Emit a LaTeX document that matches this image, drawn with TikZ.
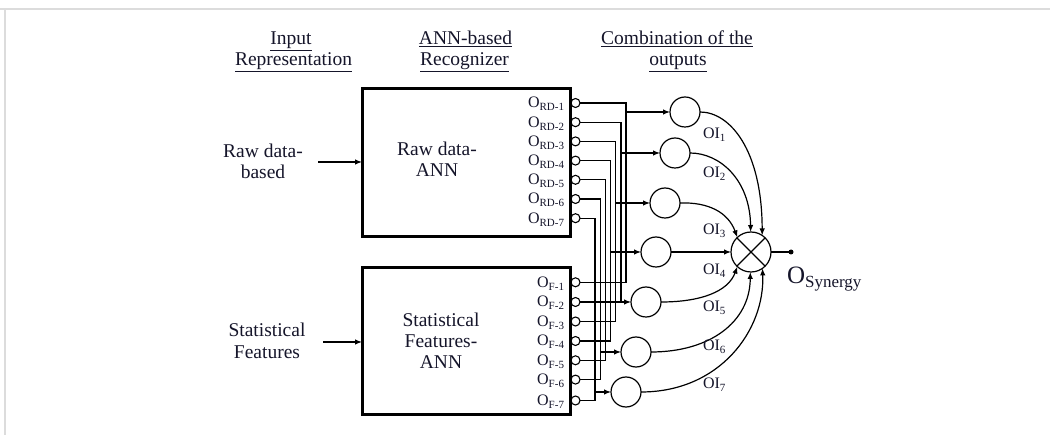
\documentclass[tikz,border=0pt]{standalone}
\usepackage{fontspec}
\setmainfont{Liberation Serif}
\usetikzlibrary{arrows.meta}
\definecolor{ink}{HTML}{15152A}
\definecolor{pageframe}{HTML}{DCDCDC}
\newcommand{\ulbl}[1]{$\underline{\hbox{#1}}$}
\newcommand{\osub}[1]{{\fontsize{16}{16}\selectfont O}\raisebox{-3pt}{\fontsize{11}{11}\selectfont #1}}
\newcommand{\oisub}[1]{{\fontsize{16}{16}\selectfont OI}\raisebox{-3pt}{\fontsize{11}{11}\selectfont #1}}
\begin{document}
\begin{tikzpicture}[x=1pt,y=-1pt,
  every node/.style={text=ink, inner sep=0pt, outer sep=0pt},
  lbl/.style={font=\fontsize{19.5}{22}\selectfont, anchor=base},
  annbox/.style={draw=black, line width=3pt},
  port/.style={circle, draw=black, line width=1.1pt, fill=white, minimum size=9pt},
  neuron/.style={circle, draw=black, line width=1.2pt, minimum size=30pt},
  wire/.style={draw=black, line width=1.2pt},
  arr/.style={wire, -{Latex[length=7pt,width=5.5pt]}}
]
\useasboundingbox (0,0) rectangle (1050,435);
% page frame
\draw[pageframe, line width=2pt] (0,9.5) -- (1050,9.5);
\draw[pageframe, line width=2pt] (5,9.5) -- (5,435);

% column headings
\node[lbl] (h1a) at (291,44.3) {\ulbl{Input}};
\node[lbl] (h1b) at (293.5,65.7) {\ulbl{Representation}};
\node[lbl] (h2a) at (465.5,44.3) {\ulbl{ANN-based}};
\node[lbl] (h2b) at (464.5,65.7) {\ulbl{Recognizer}};
\node[lbl] (h3a) at (677,44.3) {\ulbl{Combination of the}};
\node[lbl] (h3b) at (678,65.7) {\ulbl{outputs}};

% output ports of both recognizers
\foreach \i/\yr/\yf in {1/103/282.3, 2/122.2/302, 3/141.4/321.5, 4/160.6/341,
                        5/179.8/360.3, 6/199/379.6, 7/218.2/400.5}{
  \node[port] (pr\i) at (575.5,\yr) {};
  \node[port] (pf\i) at (575.5,\yf) {};
  \node[anchor=base east] (lr\i) at (564,\yr+5) {\osub{RD-\i}};
  \node[anchor=base east] (lf\i) at (564,\yf+5) {\osub{F-\i}};
}

% recognizer boxes
\node[annbox, minimum width=208pt, minimum height=148pt] (rd) at (466,163) {};
\node[annbox, minimum width=208pt, minimum height=147pt] (sf) at (466,341.5) {};
\node[lbl] (rdt1) at (437,156) {Raw data-};
\node[lbl] (rdt2) at (437,177) {ANN};
\node[lbl] (sft1) at (441,327) {Statistical};
\node[lbl] (sft2) at (441,348) {Features-};
\node[lbl] (sft3) at (441,369) {ANN};

% input representations
\node[lbl] (in1a) at (263,157.3) {Raw data-};
\node[lbl] (in1b) at (263,178.3) {based};
\node[lbl] (in2a) at (267,336.7) {Statistical};
\node[lbl] (in2b) at (267,359) {Features};
\coordinate (ia) at (318,162);
\coordinate (ib) at (323,342);
\draw[arr] (ia) -- (ia -| rd.west);
\draw[arr] (ib) -- (ib -| sf.west);

% combining neurons and the synergy node
\foreach \i/\cx/\cy in {1/685/112, 2/675/153, 3/665/203, 4/656/252,
                        5/646/302, 6/636/352, 7/626/392}{
  \node[neuron] (c\i) at (\cx,\cy) {};
}
\node[circle, draw=black, line width=1.2pt, minimum size=40pt] (sum) at (751,252) {};
\draw[wire] (sum.45) -- (sum.225);
\draw[wire] (sum.135) -- (sum.315);

% wiring: RD-i and F-i share one bus line that feeds neuron i
\foreach \i/\xv/\cy in {1/626/112, 2/621/153, 3/615.5/203, 4/610.5/252,
                        5/605.5/302, 6/600.5/352, 7/595/392}{
  \coordinate (ta\i) at (pr\i.center -| \xv,0);
  \coordinate (tb\i) at (pf\i.center -| \xv,0);
  \coordinate (br\i) at (\xv,\cy);
  \draw[wire] (pr\i.east) -- (ta\i) -- (tb\i) -- (pf\i.east);
  \draw[arr] (br\i) -- (c\i.west);
}

% neuron outputs into the synergy node
\draw[arr] (c1.east) .. controls (730,112) and (762,150) .. (sum.56);
\draw[arr] (c2.east) .. controls (720,153) and (750,180) .. (sum.91);
\draw[arr] (c3.east) .. controls (708,202) and (728,212) .. (sum.133);
\draw[arr] (c4.east) -- (sum.west);
\draw[arr] (c5.east) .. controls (700,302) and (728,292) .. (sum.227);
\draw[arr] (c6.east) .. controls (710,352) and (750,322) .. (sum.268);
\draw[arr] (c7.east) .. controls (720,392) and (765,330) .. (sum.305);

% labels of the intermediate outputs
\foreach \i/\ly in {1/134, 2/173, 3/229.5, 4/269.5, 5/307, 6/345.5, 7/383.8}{
  \node[anchor=base west] (oi\i) at (703,\ly+5) {\oisub{\i}};
}

% final output
\node[circle, fill=black, minimum size=5pt] (dot) at (791,252) {};
\draw[wire] (sum.east) -- (dot);
\node[anchor=base west] (osyn) at (787,284)
  {{\fontsize{25}{25}\selectfont O}\raisebox{-4pt}{\fontsize{17}{17}\selectfont Synergy}};
\end{tikzpicture}
\end{document}
